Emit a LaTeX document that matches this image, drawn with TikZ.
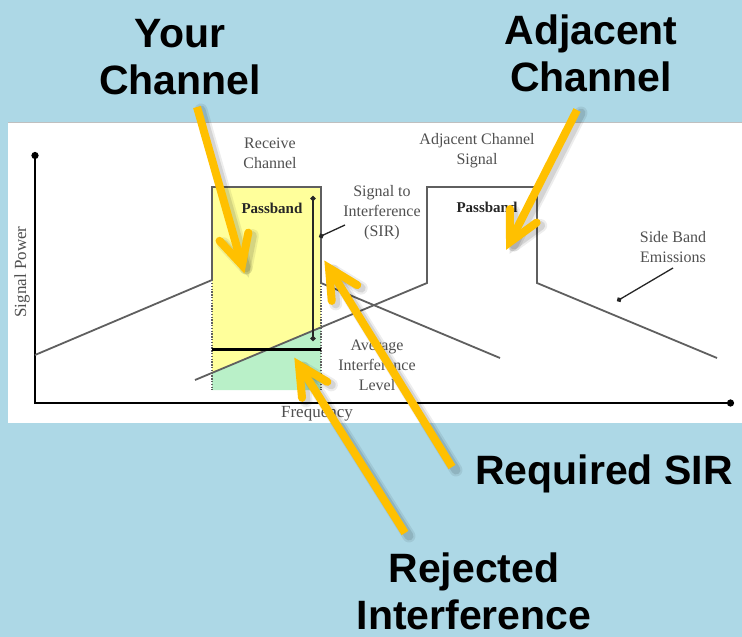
\documentclass[tikz,border=0pt]{standalone}
\usepackage{fontspec}
\setmainfont{Liberation Serif}
\newfontfamily\headfont{Liberation Sans}
\usetikzlibrary{arrows.meta,calc}

\definecolor{skyback}{RGB}{173,216,230}
\definecolor{arrowgold}{RGB}{255,192,0}
\definecolor{passyellow}{RGB}{255,255,155}
\definecolor{rejgreen}{RGB}{185,240,200}
\definecolor{tracegray}{RGB}{95,95,95}
\definecolor{notegray}{RGB}{80,80,80}

\tikzset{
  callout/.style={font=\headfont\bfseries\fontsize{41}{47}\selectfont, align=center, inner sep=0pt},
  note/.style={font=\fontsize{16}{20}\selectfont, text=notegray, align=center, inner sep=0pt},
  bandtext/.style={font=\bfseries\fontsize{15}{18}\selectfont, text=black!85, inner sep=0pt},
  trace/.style={draw=tracegray, line width=1.8pt},
  dotside/.style={draw=tracegray, line width=1.6pt, dash pattern=on 1.4pt off 1.4pt},
  axis/.style={draw=black, line width=2.8pt, {Circle[length=7pt]}-{Circle[length=7pt]}},
  leader/.style={draw=black!85, line width=1.3pt, -{Circle[length=5pt]}},
  pointer/.style={draw=arrowgold, line width=8pt, line cap=butt},
  barb/.style={draw=arrowgold, line width=8pt, line cap=round, line join=miter},
  shadewide/.style={draw=black, opacity=0.07, line width=13pt, line cap=round, line join=round},
  shadenarrow/.style={draw=black, opacity=0.1, line width=9pt, line cap=round, line join=miter}
}

% yellow callout arrow from #1 to tip #2, with a soft drop shade
\newcommand{\calloutarrow}[2]{%
  \foreach \shd in {shadewide,shadenarrow}{
    \draw[\shd] ([shift={(4,3)}]#1) -- ([shift={(4,3)}]#2);
    \draw[\shd] ([shift={(4,3)}]$(#2)!33pt!27:(#1)$) -- ([shift={(4,3)}]#2) -- ([shift={(4,3)}]$(#2)!33pt!-27:(#1)$);
  }
  \draw[pointer] (#1) -- (#2);
  \draw[barb] ($(#2)!33pt!27:(#1)$) -- (#2) -- ($(#2)!33pt!-27:(#1)$);
}

\begin{document}
\begin{tikzpicture}[x=1pt,y=-1pt]
  % backdrop and white plot panel
  \fill[skyback] (0,0) rectangle (742,637);
  \useasboundingbox (0,0) rectangle (742,637);
  \fill[white] (8,122) rectangle (742,423);
  \draw[black!25, line width=1pt] (8,122.5) -- (742,122.5);

  % receive channel passband and rejected interference area
  \fill[passyellow] (212,187) rectangle (321,390);
  \fill[rejgreen] (212,372.9) -- (321,327.3) -- (321,390) -- (212,390) -- cycle;

  % axes
  \coordinate (ytop) at (35,152);
  \coordinate (origin) at (35,403);
  \coordinate (xend) at (734,403);
  \draw[axis] (ytop) -- (origin) -- (xend);

  % receive channel spectrum
  \draw[trace] (35,355) -- (212,280) -- (212,187) -- (321,187) -- (321,283) -- (500,358);
  \draw[dotside] (212,283) -- (212,390);
  \draw[dotside] (321,283) -- (321,390);

  % adjacent channel spectrum
  \draw[trace] (195,380) -- (427,283) -- (427,187) -- (537,187) -- (537,283) -- (717,358);

  % average interference level and SIR span
  \draw[black, line width=3pt] (212,349) -- (321,349);
  \coordinate (sirtop) at (313,196);
  \coordinate (sirbot) at (313,341);
  \draw[black!85, line width=1.3pt, {Circle[length=5pt]}-{Circle[length=5pt]}] (sirtop) -- (sirbot);

  % chart annotations
  \node[note] (rxnote) at (270,153) {Receive\\Channel};
  \node[note] (sirnote) at (382,213) {Signal to\\Interference\\(SIR)};
  \node[note] (avgnote) at (377,365) {Average\\Interference\\Level};
  \node[note] (adjnote) at (477,151) {Adjacent Channel\\Signal};
  \node[note] (sbnote) at (673,247) {Side Band\\Emissions};
  \node[bandtext] (rxpass) at (272,208) {Passband};
  \node[bandtext] (adjpass) at (487,207) {Passband};
  \node[note, font=\fontsize{17}{20}\selectfont] (freq) at (317,414) {Frequency};
  \node[note, font=\fontsize{17}{20}\selectfont, rotate=90] (power) at (22,272) {Signal Power};

  \coordinate (sirfrom) at (345,225);
  \coordinate (sirto) at (319,237);
  \draw[leader] (sirfrom) -- (sirto);
  \coordinate (sbfrom) at (673,268);
  \coordinate (sbto) at (617,301);
  \draw[leader] (sbfrom) -- (sbto);

  % callout labels
  \node[callout, anchor=north] (yourlbl) at (180,19) {Your\\Channel};
  \node[callout, anchor=north] (adjlbl) at (591,15) {Adjacent\\Channel};
  \node[callout, anchor=base] (sirlbl) at (604,484) {Required SIR};
  \node[callout, anchor=north] (rejlbl) at (474,553) {Rejected\\Interference};

  % callout pointers
  \coordinate (p1a) at (197,107); \coordinate (p1b) at (242,265);
  \coordinate (p2a) at (577,110); \coordinate (p2b) at (510,242);
  \coordinate (p3a) at (452,467); \coordinate (p3b) at (329,268);
  \coordinate (p4a) at (405,533); \coordinate (p4b) at (299,365);
  \calloutarrow{p1a}{p1b}
  \calloutarrow{p2a}{p2b}
  \calloutarrow{p3a}{p3b}
  \calloutarrow{p4a}{p4b}
\end{tikzpicture}
\end{document}
